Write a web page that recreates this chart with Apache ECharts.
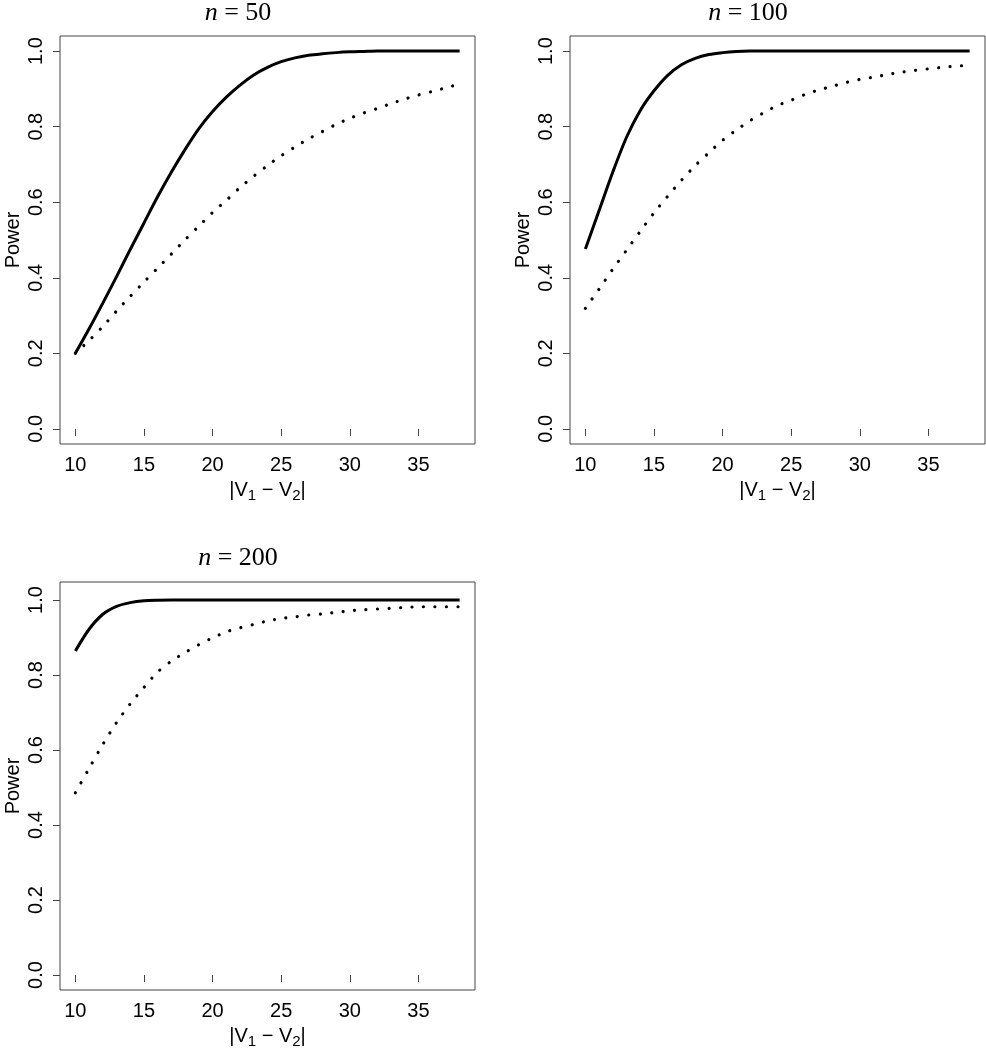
<!DOCTYPE html>
<html>
<head>
<meta charset="utf-8">
<script src="https://cdn.jsdelivr.net/npm/echarts@6/dist/echarts.min.js"></script>
<style>
  html, body { margin: 0; padding: 0; background: #fff; }
  #chart { width: 986px; height: 1050px; }
</style>
</head>
<body>
<div id="chart"></div>
<script>
// |V1 - V2| values
const diffs = [10, 11, 12, 13, 14, 15, 16, 17, 18, 19, 20, 21, 22, 23, 24,
  25, 26, 27, 28, 29, 30, 31, 32, 33, 34, 35, 36, 37, 38];

// n = 50
const solid50 = [0.200, 0.265, 0.333, 0.403, 0.475, 0.545, 0.615, 0.680, 0.740, 0.795,
  0.840, 0.878, 0.910, 0.937, 0.957, 0.972, 0.982, 0.989, 0.993, 0.996,
  0.998, 0.999, 1.0, 1.0, 1.0, 1.0, 1.0, 1.0, 1.0];
const dotted50 = [0.200, 0.234, 0.271, 0.312, 0.351, 0.389, 0.426, 0.463, 0.501, 0.537,
  0.573, 0.605, 0.639, 0.669, 0.697, 0.723, 0.746, 0.768, 0.787, 0.806,
  0.822, 0.836, 0.848, 0.861, 0.873, 0.884, 0.893, 0.903, 0.913];

// n = 100
const solid100 = [0.476, 0.578, 0.680, 0.772, 0.843, 0.895, 0.936, 0.964, 0.981, 0.991,
  0.996, 0.999, 1.0, 1.0, 1.0, 1.0, 1.0, 1.0, 1.0, 1.0,
  1.0, 1.0, 1.0, 1.0, 1.0, 1.0, 1.0, 1.0, 1.0];
const dotted100 = [0.319, 0.370, 0.423, 0.473, 0.523, 0.572, 0.616, 0.658, 0.697, 0.731,
  0.764, 0.791, 0.816, 0.837, 0.856, 0.870, 0.885, 0.897, 0.907, 0.917,
  0.925, 0.931, 0.938, 0.944, 0.949, 0.953, 0.957, 0.960, 0.963];

// n = 200
const solid200 = [0.864, 0.922, 0.962, 0.983, 0.993, 0.998, 0.9995, 1.0, 1.0, 1.0,
  1.0, 1.0, 1.0, 1.0, 1.0, 1.0, 1.0, 1.0, 1.0, 1.0,
  1.0, 1.0, 1.0, 1.0, 1.0, 1.0, 1.0, 1.0, 1.0];
const dotted200 = [0.486, 0.551, 0.615, 0.673, 0.723, 0.767, 0.808, 0.837, 0.860, 0.881,
  0.899, 0.915, 0.926, 0.935, 0.944, 0.951, 0.955, 0.960, 0.963, 0.967,
  0.971, 0.974, 0.976, 0.978, 0.980, 0.982, 0.982, 0.982, 0.982];

const xTicks = [10, 15, 20, 25, 30, 35];
const yTicks = [0, 0.2, 0.4, 0.6, 0.8, 1.0];
const sampleSizes = ['50', '100', '200'];

const chart = echarts.init(document.getElementById('chart'));

const SANS = 'Liberation Sans';
const SERIF = 'Liberation Serif';
const INK = '#444';

// panel boxes (plot regions)
const panels = [
  { left: 60, top: 36, width: 415, height: 408, yMax: 1.04, titleX: 238, titleY: 13 },
  { left: 570, top: 36, width: 415, height: 408, yMax: 1.04, titleX: 748, titleY: 13 },
  { left: 60, top: 582, width: 415, height: 412, yMax: 1.048, titleX: 238, titleY: 558 }
];
const solids = [solid50, solid100, solid200];
const dots = [dotted50, dotted100, dotted200];

const pairs = (ys) => diffs.map((x, i) => [x, ys[i]]);

const option = {
  animation: false,
  backgroundColor: '#fff',
  grid: panels.map((p) => ({
    left: p.left, top: p.top, width: p.width, height: p.height,
    show: true, borderColor: INK, borderWidth: 1, backgroundColor: 'transparent',
    containLabel: false
  })),
  xAxis: panels.map((p, i) => ({
    type: 'value',
    gridIndex: i,
    min: 8.88,
    max: 39.12,
    axisLine: { show: false },
    splitLine: { show: false },
    axisTick: { show: true, customValues: xTicks, length: 7, lineStyle: { color: INK } },
    axisLabel: {
      customValues: xTicks,
      margin: 11,
      color: '#000',
      fontFamily: SANS,
      fontSize: 20
    },
    name: '|V{sub|1} − V{sub|2}|',
    nameLocation: 'middle',
    nameGap: 34,
    nameTextStyle: {
      color: '#000',
      fontFamily: SANS,
      fontSize: 20,
      rich: {
        sub: { fontFamily: SANS, fontSize: 15, padding: [10, 0, 0, 0] }
      }
    }
  })),
  yAxis: panels.map((p, i) => ({
    type: 'value',
    gridIndex: i,
    min: -0.04,
    max: p.yMax,
    axisLine: { show: false },
    splitLine: { show: false },
    axisTick: { show: true, customValues: yTicks, length: 7, lineStyle: { color: INK } },
    axisLabel: {
      customValues: yTicks,
      rotate: 90,
      margin: 14,
      color: '#000',
      fontFamily: SANS,
      fontSize: 20,
      formatter: (v) => v.toFixed(1)
    },
    name: 'Power',
    nameLocation: 'middle',
    nameGap: 37,
    nameTextStyle: { color: '#000', fontFamily: SANS, fontSize: 20 }
  })),
  graphic: panels.map((p, i) => ({
    type: 'text',
    x: p.titleX,
    y: p.titleY,
    style: {
      text: '{i|n} = ' + sampleSizes[i],
      font: '26px "Liberation Serif"',
      fill: '#000',
      align: 'center',
      verticalAlign: 'middle',
      rich: {
        i: { fontFamily: SERIF, fontStyle: 'italic', fontSize: 26 }
      }
    }
  })),
  series: []
};

panels.forEach((p, i) => {
  option.series.push({
    type: 'line',
    xAxisIndex: i,
    yAxisIndex: i,
    data: pairs(solids[i]),
    symbol: 'none',
    smooth: 0.3,
    lineStyle: { color: '#000', width: 3 }
  });
  option.series.push({
    type: 'line',
    xAxisIndex: i,
    yAxisIndex: i,
    data: pairs(dots[i]),
    symbol: 'none',
    smooth: 0.3,
    lineStyle: { color: '#000', width: 3.2, type: [0.01, 11.5], cap: 'round' }
  });
});

chart.setOption(option);
window.addEventListener('resize', () => chart.resize());
</script>
</body>
</html>
